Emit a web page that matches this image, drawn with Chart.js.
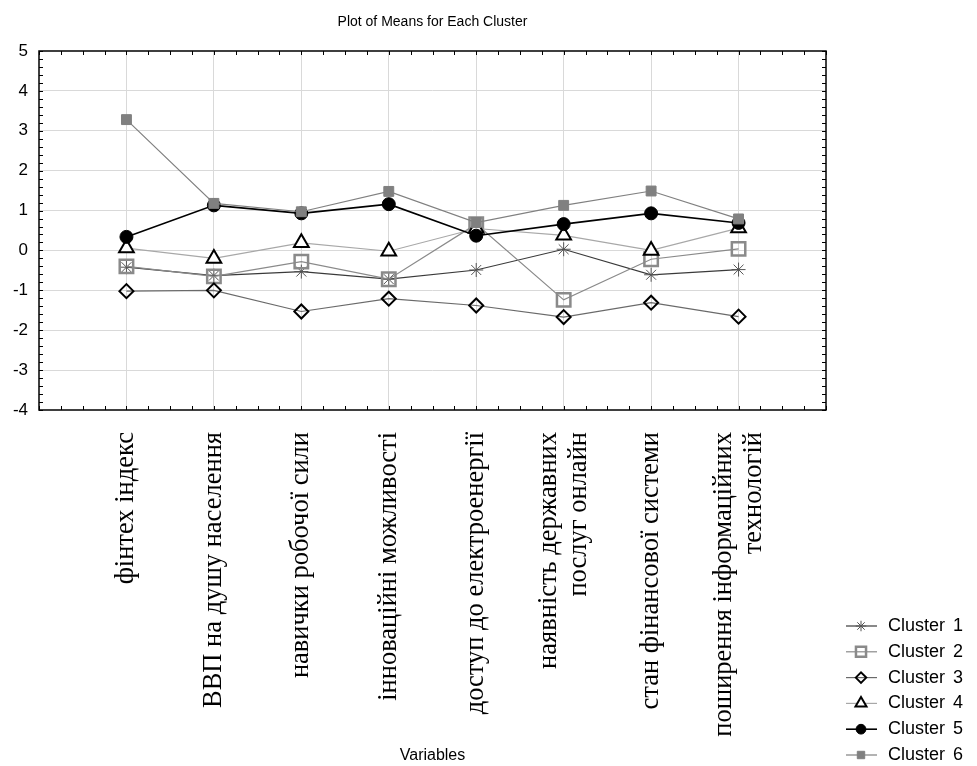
<!DOCTYPE html>
<html>
<head>
<meta charset="utf-8">
<script src="https://cdn.jsdelivr.net/npm/chart.js@4.4.0/dist/chart.umd.min.js"></script>
<style>
  body { margin: 0; background: #fff; }
</style>
</head>
<body>
<canvas id="canvas" width="977" height="766"></canvas>
<script>
var categories = [
  'фінтех індекс',
  'ВВП на душу населення',
  'навички робочої сили',
  'інноваційні можливості',
  'доступ до електроенергії',
  ['наявність державних', 'послуг онлайн'],
  'стан фінансової системи',
  ['поширення інформаційних', 'технологій']
];
var clusterNames = ['Cluster 1', 'Cluster 2', 'Cluster 3', 'Cluster 4', 'Cluster 5', 'Cluster 6'];
var cluster1 = [-0.42, -0.63, -0.53, -0.72, -0.49, 0.03, -0.61, -0.48];
var cluster2 = [-0.40, -0.65, -0.28, -0.72, 0.66, -1.24, -0.22, 0.04];
var cluster3 = [-1.02, -1.00, -1.53, -1.21, -1.38, -1.67, -1.31, -1.66];
var cluster4 = [0.06, -0.20, 0.19, -0.02, 0.55, 0.38, 0.00, 0.56];
var cluster5 = [0.34, 1.13, 0.93, 1.16, 0.37, 0.66, 0.93, 0.69];
var cluster6 = [3.28, 1.18, 0.97, 1.48, 0.70, 1.13, 1.49, 0.79];
var yTicks = [-4, -3, -2, -1, 0, 1, 2, 3, 4, 5];

var allValues = [cluster1, cluster2, cluster3, cluster4, cluster5, cluster6];

// look of each cluster line (statistica style greys)
var looks = [
  { line: '#3a3a3a', width: 1.2, point: 'star', r: 7, border: '#555', fill: 'rgba(0,0,0,0)', bw: 1 },
  { line: '#8a8a8a', width: 1.2, point: 'rect', r: 9.5, border: '#8a8a8a', fill: 'rgba(0,0,0,0)', bw: 2.5 },
  { line: '#6a6a6a', width: 1.2, point: 'rectRot', r: 7, border: '#000', fill: 'rgba(0,0,0,0)', bw: 2 },
  { line: '#a8a8a8', width: 1.2, point: 'triangle', r: 8.5, border: '#000', fill: '#fff', bw: 2 },
  { line: '#000', width: 1.6, point: 'circle', r: 6.5, border: '#000', fill: '#000', bw: 1 },
  { line: '#808080', width: 1.2, point: 'rect', r: 7, border: '#808080', fill: '#808080', bw: 1 }
];

var datasets = allValues.map(function(vals, k) {
  var lk = looks[k];
  return {
    label: clusterNames[k],
    data: vals.map(function(v, i) { return { x: i + 1, y: v }; }),
    borderColor: lk.line,
    borderWidth: lk.width,
    pointStyle: lk.point,
    pointRadius: lk.r,
    pointBorderColor: lk.border,
    pointBackgroundColor: lk.fill,
    pointBorderWidth: lk.bw,
    tension: 0,
    fill: false,
    order: 6 - k
  };
});

var extras = {
  id: 'extras',
  afterDraw: function(chart) {
    var c = chart.ctx, a = chart.chartArea;
    var xs = chart.scales.x, ys = chart.scales.y;
    c.save();

    // title
    c.fillStyle = '#000';
    c.font = '14px "Liberation Sans", Arial, sans-serif';
    c.textAlign = 'center';
    c.textBaseline = 'middle';
    c.fillText('Plot of Means for Each Cluster', (a.left + a.right) / 2, 22);

    // frame + inward minor ticks
    c.strokeStyle = '#000';
    c.lineWidth = 1.5;
    c.strokeRect(a.left, a.top, a.right - a.left, a.bottom - a.top);
    c.lineWidth = 1;
    c.beginPath();
    for (var v = 0; v <= 9.001; v += 0.25) {
      var px = Math.round(xs.getPixelForValue(v)) + 0.5;
      c.moveTo(px, a.bottom); c.lineTo(px, a.bottom - 4);
      c.moveTo(px, a.top); c.lineTo(px, a.top + 4);
    }
    for (var w = -4; w <= 5.001; w += 0.2) {
      var py = Math.round(ys.getPixelForValue(w)) + 0.5;
      c.moveTo(a.left, py); c.lineTo(a.left + 4, py);
      c.moveTo(a.right, py); c.lineTo(a.right - 4, py);
    }
    c.stroke();

    // rotated category labels, multi-line ones centred on the tick
    c.font = '26.5px "Liberation Serif", "Times New Roman", serif';
    c.textAlign = 'right';
    c.textBaseline = 'middle';
    var lh = 30;
    categories.forEach(function(cat, i) {
      var lines = Array.isArray(cat) ? cat : [cat];
      var px = xs.getPixelForValue(i + 1);
      lines.forEach(function(t, j) {
        var cx = px + (j - (lines.length - 1) / 2) * lh;
        c.save();
        c.translate(cx, a.bottom + 22);
        c.rotate(-Math.PI / 2);
        c.fillText(t, 0, 0);
        c.restore();
      });
    });

    // legend: line segment with marker
    c.font = '18px "Liberation Sans", Arial, sans-serif';
    c.textAlign = 'left';
    chart.data.datasets.forEach(function(ds, k) {
      var y = 626 + k * 25.8;
      c.strokeStyle = ds.borderColor;
      c.lineWidth = ds.borderWidth;
      c.beginPath();
      c.moveTo(846, y); c.lineTo(877, y);
      c.stroke();
      if (Chart.helpers && Chart.helpers.drawPoint) {
        c.fillStyle = ds.pointBackgroundColor;
        c.strokeStyle = ds.pointBorderColor;
        c.lineWidth = ds.pointBorderWidth;
        Chart.helpers.drawPoint(c, { pointStyle: ds.pointStyle, radius: ds.pointRadius * 0.75, rotation: 0, borderWidth: ds.pointBorderWidth }, 861, y);
      }
      c.fillStyle = '#000';
      var parts = ds.label.split(' ');
      c.fillText(parts[0], 888, y);
      c.fillText(parts[1], 953, y);
    });
    c.restore();
  }
};

var ctx = document.getElementById('canvas').getContext('2d');
var chart = new Chart(ctx, {
  type: 'line',
  data: { datasets: datasets },
  options: {
    responsive: false,
    animation: false,
    events: [],
    layout: { padding: { top: 51, right: 151, left: 0, bottom: 0 } },
    plugins: { legend: { display: false }, tooltip: { enabled: false } },
    scales: {
      x: {
        type: 'linear',
        min: 0,
        max: 9,
        afterFit: function(s) { s.height = 356; },
        afterBuildTicks: function(s) {
          s.ticks = [0, 1, 2, 3, 4, 5, 6, 7, 8, 9].map(function(v) { return { value: v }; });
        },
        ticks: { display: false },
        grid: {
          drawTicks: false,
          color: function(cx) {
            var v = cx.tick && cx.tick.value;
            return (v >= 1 && v <= 8) ? '#d9d9d9' : 'rgba(0,0,0,0)';
          }
        },
        border: { display: false },
        title: {
          display: true,
          text: 'Variables',
          color: '#000',
          font: { family: '"Liberation Sans", Arial, sans-serif', size: 16 },
          padding: { top: 0, bottom: 1 }
        }
      },
      y: {
        min: -4,
        max: 5,
        afterFit: function(s) { s.width = 39; },
        afterBuildTicks: function(s) {
          s.ticks = yTicks.map(function(v) { return { value: v }; });
        },
        ticks: {
          color: '#000',
          padding: 11,
          font: { family: '"Liberation Sans", Arial, sans-serif', size: 17 },
          callback: function(v) { return String(v); }
        },
        grid: {
          drawTicks: false,
          color: function(cx) {
            var v = cx.tick && cx.tick.value;
            return (v > -4 && v < 5) ? '#d9d9d9' : 'rgba(0,0,0,0)';
          }
        },
        border: { display: false }
      }
    }
  },
  plugins: [extras]
});
</script>
</body>
</html>
